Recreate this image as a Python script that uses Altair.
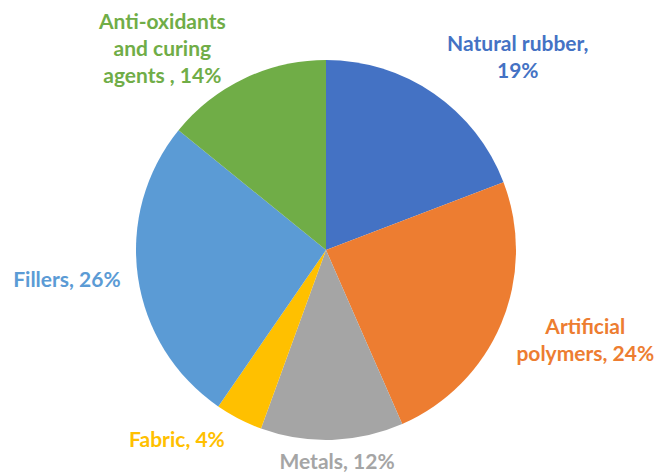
import altair as alt
import pandas as pd

categories = ["Natural rubber", "Artificial polymers", "Metals", "Fabric", "Fillers", "Anti-oxidants and curing agents "]
values = [19, 24, 12, 4, 26, 14]
label_lines = [
    ["Natural rubber,", "19%"],
    ["Artificial", "polymers, 24%"],
    ["Metals, 12%"],
    ["Fabric, 4%"],
    ["Fillers, 26%"],
    ["Anti-oxidants", "and curing", "agents , 14%"],
]
colors = ["#4472C4", "#ED7D31", "#A5A5A5", "#FFC000", "#5B9BD5", "#70AD47"]

# label nudges (style only)
offsets = {
    "Natural rubber": (84, -49),
    "Artificial polymers": (84, 5),
    "Metals": (5, 23),
    "Fabric": (-62, 22),
    "Fillers": (-71, 4),
    "Anti-oxidants and curing agents ": (-82, -55),
}

df = pd.DataFrame({
    "category": categories,
    "value": values,
    "order": list(range(len(categories))),
    "label": label_lines,
})

CX, CY, R = 326, 250, 190
color_scale = alt.Scale(domain=categories, range=colors)

base = alt.Chart(df)

pie = base.mark_arc(stroke=None).encode(
    theta=alt.Theta("value:Q", stack=True),
    color=alt.Color("category:N", scale=color_scale, legend=None),
    order=alt.Order("order:Q"),
    x=alt.value(CX),
    y=alt.value(CY),
    radius=alt.value(R),
)

layers = [pie]
for cat in categories:
    dx, dy = offsets[cat]
    t = base.mark_text(
        font="Lato", fontWeight="bold", fontSize=21, lineHeight=27,
        align="center", baseline="middle", dx=dx, dy=dy,
    ).encode(
        theta=alt.Theta("value:Q", stack=True),
        order=alt.Order("order:Q"),
        text=alt.Text("label"),
        color=alt.Color("category:N", scale=color_scale, legend=None),
        opacity=alt.condition(alt.datum.category == cat, alt.value(1), alt.value(0)),
        x=alt.value(CX),
        y=alt.value(CY),
        radius=alt.value(R),
    )
    layers.append(t)

chart = alt.layer(*layers).properties(
    width=657, height=474,
    autosize=alt.AutoSizeParams(type="none"),
    padding=0,
).configure_view(stroke=None)

chart.save("out.html", embed_options={"renderer": "svg", "actions": False})
